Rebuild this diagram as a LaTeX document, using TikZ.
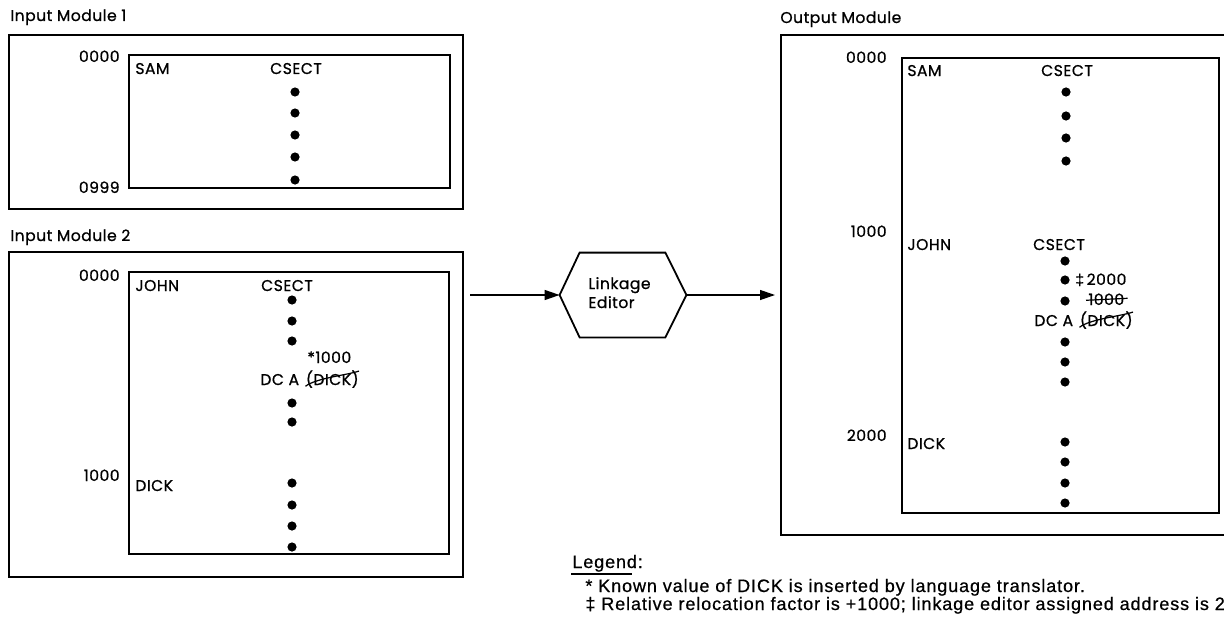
\documentclass[tikz,border=0pt]{standalone}
\usepackage{fontspec}
\setmainfont{Poppins}[LetterSpace=3,FakeBold=0.8]
\newfontfamily\legfont{Liberation Sans}[LetterSpace=5,FakeBold=0.6]
\usetikzlibrary{arrows.meta,calc}
\begin{document}
\begin{tikzpicture}[x=0.5pt,y=-0.5pt,
  title/.style={inner sep=0pt,anchor=base west,font=\fontsize{7.8}{8}\selectfont},
  txt/.style={inner sep=0pt,font=\fontsize{7.8}{9}\selectfont},
  lt/.style={txt,anchor=base west},
  rt/.style={txt,anchor=base east},
  ct/.style={txt,anchor=base},
  leg/.style={inner sep=0pt,anchor=base west,font=\legfont\fontsize{9}{10}\selectfont},
  outerbox/.style={line width=1pt},
  innerbox/.style={line width=0.75pt},
  arr/.style={line width=0.6pt,-{Triangle[length=7.5pt,width=5pt]}},
  strike/.style={line width=0.6pt},
]
\clip (0,0) rectangle (1224,626);
\fill[white] (0,0) rectangle (1224,626);
\newcommand{\dotat}[2]{\fill (#1,#2) circle[radius=2.3pt];}

% ---------- Input Module 1 ----------
\node[title] (t1) at (10,21) {Input Module 1};
\coordinate (o1a) at (9,35); \coordinate (o1b) at (463,209);
\draw[outerbox] (o1a) rectangle (o1b);
\coordinate (i1a) at (129,55); \coordinate (i1b) at (450,188);
\draw[innerbox] (i1a) rectangle (i1b);
\node[rt] (a1) at (120,62) {0000};
\node[rt] (a2) at (120,193) {0999};
\node[lt] (sam1) at (135,74) {SAM};
\node[ct] (cs1) at (296,74) {CSECT};
\foreach \y in {92,113,135,157,180} {\dotat{295}{\y}}

% ---------- Input Module 2 ----------
\node[title] (t2) at (10,241) {Input Module 2};
\coordinate (o2a) at (9,252); \coordinate (o2b) at (463,577);
\draw[outerbox] (o2a) rectangle (o2b);
\coordinate (i2a) at (129,272); \coordinate (i2b) at (449,554);
\draw[innerbox] (i2a) rectangle (i2b);
\node[rt] (b1) at (120,281) {0000};
\node[rt] (b2) at (120,481) {1000};
\node[lt] (john1) at (135,291) {JOHN};
\node[ct] (cs2) at (287,291) {CSECT};
\foreach \y in {300,321,341,403,422,483,505,526,547} {\dotat{292}{\y}}
\node[lt] (k1) at (307,363) {*1000};
\node[lt] (dca1) at (260,385) {DC A};
\node[lt] (dk1) at ($(dca1.base east)+(6,0)$) {(DICK)};
\draw[strike] ($(dk1.south west)+(0,-2)$) .. controls ($(dk1.west)+(10,-1)$) and ($(dk1.east)+(-12,-4)$) .. ($(dk1.north east)+(0,1)$);
\node[lt] (dick1) at (135,491) {DICK};

% ---------- Linkage Editor ----------
\node[inner sep=0pt,minimum width=63pt,minimum height=42pt] (le) at (623,295) {};
\draw[line width=0.9pt] (le.west) -- ($(le.north west)+(20,0)$) -- ($(le.north east)+(-21,0)$) -- (le.east) -- ($(le.south east)+(-21,0)$) -- ($(le.south west)+(20,0)$) -- cycle;
\node[title] (let) at (588,289) {Linkage};
\node[title] (let2) at (588,308) {Editor};
\coordinate (src) at (470,295);
\coordinate (dst) at (775,295);
\draw[arr] (src) -- (le.west);
\draw[arr] (le.east) -- (dst);

% ---------- Output Module ----------
\node[title] (t3) at (780,23) {Output Module};
\coordinate (o3a) at (781,35); \coordinate (o3b) at (781,535);
\draw[outerbox] (1230,35) -- (o3a) -- (o3b) -- (1230,535);
\coordinate (i3a) at (902,58); \coordinate (i3b) at (1219,513);
\draw[innerbox] (i3a) rectangle (i3b);
\node[rt] (c1) at (887,63) {0000};
\node[rt] (c2) at (887,237) {1000};
\node[rt] (c3) at (887,441) {2000};
\node[lt] (sam3) at (907,76) {SAM};
\node[ct] (cs3) at (1067,76) {CSECT};
\foreach \y in {92,116,138,161} {\dotat{1066}{\y}}
\node[lt] (john3) at (907,250) {JOHN};
\node[ct] (cs4) at (1059,250) {CSECT};
\foreach \y in {261,280,301,342,362,382,442,462,483,503} {\dotat{1065}{\y}}
\node[lt] (dg) at (1075,285) {\legfont ‡\,\rmfamily 2000};
\node[lt] (old) at (1088,305) {1000};
\draw[strike] ($(old.west)+(-2,1)$) -- ($(old.east)+(3,-1)$);
\node[lt] (dca3) at (1034,326) {DC A};
\node[lt] (dk3) at ($(dca3.base east)+(6,0)$) {(DICK)};
\draw[strike] ($(dk3.south west)+(0,-2)$) .. controls ($(dk3.west)+(10,-1)$) and ($(dk3.east)+(-12,-4)$) .. ($(dk3.north east)+(0,1)$);
\node[lt] (dick3) at (907,449) {DICK};

% ---------- Legend ----------
\node[leg] (lg) at (572,568) {Legend:};
\draw[line width=1.1pt] (571,574) -- (632,574);
\node[leg] (l1) at (585,592) {* Known value of DICK is inserted by language translator.};
\node[leg] (l2) at (585,610) {‡ Relative relocation factor is +1000; linkage editor assigned address is 2};
\end{tikzpicture}
\end{document}
